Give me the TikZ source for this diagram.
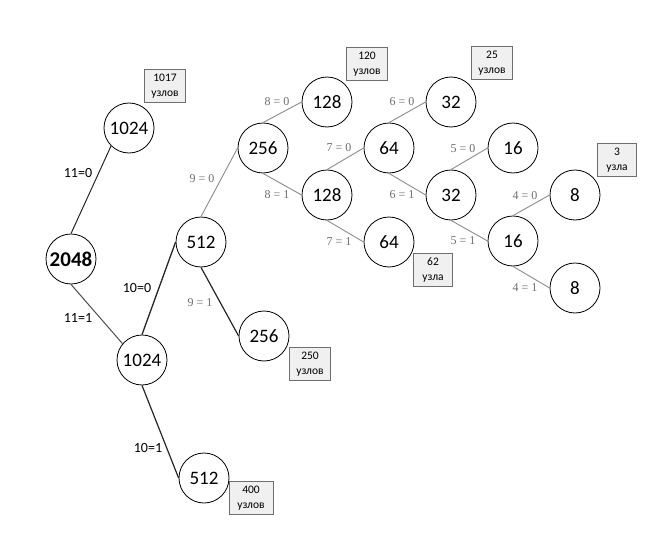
\documentclass[tikz,border=0pt]{standalone}
\usepackage{fontspec}
\setmainfont{Carlito}
\newfontfamily\lblfont{Liberation Serif}
\definecolor{edgegray}{HTML}{8C8C8C}
\definecolor{lblgray}{HTML}{6E6E6E}
\definecolor{boxfill}{HTML}{F0F0F0}
\definecolor{boxline}{HTML}{6E6E6E}
\tikzset{
  vert/.style={circle,draw,line width=.8pt,minimum size=50pt,inner sep=0pt,font=\fontsize{19}{21}\selectfont},
  cnt/.style={draw=boxline,fill=boxfill,line width=.8pt,minimum width=41pt,minimum height=33pt,inner sep=1pt,align=center,font=\fontsize{11.5}{15}\selectfont},
  dark/.style={line width=1pt,black!85},
  light/.style={line width=.9pt,edgegray},
  lbl/.style={font=\fontsize{14}{16}\selectfont},
  glbl/.style={text=lblgray,font=\lblfont\fontsize{12}{14}\selectfont}
}
\begin{document}
\begin{tikzpicture}[x=1pt,y=-1pt]
\useasboundingbox (0,0) rectangle (657,538);
% vertices
\node[vert,font=\fontsize{21}{23}\selectfont\bfseries] (n2048) at (71,259) {2048};
\node[vert] (n1024a) at (129,128) {1024};
\node[vert] (n1024b) at (142,360) {1024};
\node[vert] (n512a) at (201,242) {512};
\node[vert] (n512b) at (204,478) {512};
\node[vert] (n256a) at (263,148) {256};
\node[vert] (n256b) at (264,336) {256};
\node[vert] (n128a) at (327,102) {128};
\node[vert] (n128b) at (327,195) {128};
\node[vert] (n64a) at (389,148) {64};
\node[vert] (n64b) at (389,242) {64};
\node[vert] (n32a) at (451,102) {32};
\node[vert] (n32b) at (451,195) {32};
\node[vert] (n16a) at (513,148) {16};
\node[vert] (n16b) at (513,241) {16};
\node[vert] (n8a) at (575,195) {8};
\node[vert] (n8b) at (575,288) {8};
% counts
\node[cnt] (c1017) at (165,86) {1017\\узлов};
\node[cnt] (c120) at (367,64) {120\\узлов};
\node[cnt] (c25) at (492,63) {25\\узлов};
\node[cnt,minimum width=39pt] (c3) at (617,160) {3\\узла};
\node[cnt,minimum width=39pt] (c62) at (433,270) {62\\узла};
\node[cnt] (c250) at (310,364) {250\\узлов};
\node[cnt,minimum width=44pt] (c400) at (251,498) {400\\узлов};
% edges
\draw[dark] (n2048.north) -- (n1024a.225);
\draw[dark,black!70] (n2048.south) -- (n1024b.140);
\draw[dark,line width=1.3pt] (n1024b.north) -- (n512a.west);
\draw[dark,line width=1.2pt] (n1024b.south) -- (n512b.west);
\draw[dark,line width=1.2pt] (n512a.south) -- (n256b.west);
\draw[light] (n512a.north) -- (n256a.west);
\draw[light] (n256a.north) -- (n128a.west);
\draw[light] (n256a.south) -- (n128b.west);
\draw[light] (n128b.north) -- (n64a.west);
\draw[light] (n128b.south) -- (n64b.west);
\draw[light] (n64a.north) -- (n32a.west);
\draw[light] (n64a.south) -- (n32b.west);
\draw[light] (n32b.north) -- (n16a.west);
\draw[light] (n32b.south) -- (n16b.west);
\draw[light] (n16b.north) -- (n8a.west);
\draw[light] (n16b.south) -- (n8b.west);
% edge labels
\node[lbl] (l110) at (78,173) {11=0};
\node[lbl] (l111) at (78,318) {11=1};
\node[lbl] (l100) at (137,288) {10=0};
\node[lbl] (l101) at (148,448) {10=1};
\node[glbl] (l90) at (202,179) {9 = 0};
\node[glbl] (l91) at (200,303) {9 = 1};
\node[glbl] (l80) at (277,102) {8 = 0};
\node[glbl] (l81) at (277,195) {8 = 1};
\node[glbl] (l70) at (339,148) {7 = 0};
\node[glbl] (l71) at (339,242) {7 = 1};
\node[glbl] (l60) at (402,102) {6 = 0};
\node[glbl] (l61) at (402,195) {6 = 1};
\node[glbl] (l50) at (463,149) {5 = 0};
\node[glbl] (l51) at (463,241) {5 = 1};
\node[glbl] (l40) at (525,196) {4 = 0};
\node[glbl] (l41) at (525,288) {4 = 1};
\end{tikzpicture}
\end{document}
